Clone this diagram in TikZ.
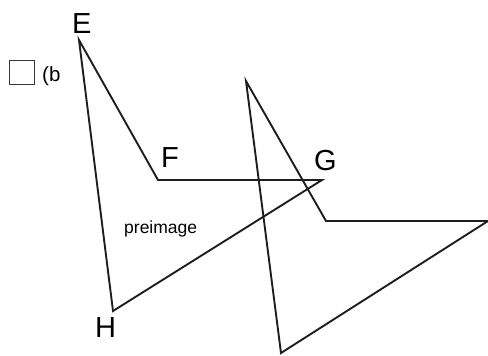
\documentclass[tikz,border=0pt]{standalone}
\usepackage{fontspec}
\setmainfont{Liberation Sans}
\usetikzlibrary{positioning}
\definecolor{cline}{HTML}{1E1E1E}
\definecolor{cbox}{HTML}{3A3A3A}

\begin{document}
\begin{tikzpicture}[x=1pt, y=-1pt,
  edge/.style={draw=cline, line width=1.9pt, line join=miter},
  vlabel/.style={inner sep=0pt, anchor=base west, font=\fontsize{29}{30}\selectfont},
  smalltext/.style={inner sep=0pt, anchor=base west, font=\fontsize{17.5}{18}\selectfont}]
  \useasboundingbox (0,0) rectangle (488,356);

  % Preimage EFGH
  \coordinate (E) at (79,40);
  \coordinate (F) at (158,180);
  \coordinate (G) at (322,180);
  \coordinate (H) at (113,311);
  \draw[edge] (E) -- (F) -- (G) -- (H) -- cycle;

  % Image
  \coordinate (Ei) at (246,81);
  \coordinate (Fi) at (326,221);
  \coordinate (Gi) at (488,221);
  \coordinate (Hi) at (281,353);
  \draw[edge] (Ei) -- (Fi) -- (Gi) -- (Hi) -- cycle;

  % Labels
  \node[vlabel] (lE) at (72,33) {E};
  \node[vlabel] (lF) at (161,167) {F};
  \node[vlabel] (lG) at (314,170) {G};
  \node[vlabel] (lH) at (95,337) {H};
  \node[smalltext] (pre) at (124,233) {preimage};

  % Checkbox
  \draw[cbox, line width=1.5pt] (9.5,60.5) rectangle (34.5,84.5);
  \node[smalltext, font=\fontsize{20.5}{21}\selectfont] (opt) at (42,81) {(b};
\end{tikzpicture}
\end{document}
